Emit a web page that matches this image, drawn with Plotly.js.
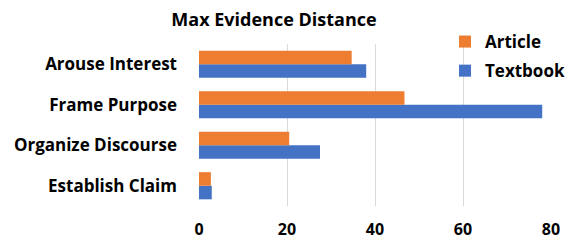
<!DOCTYPE html>
<html>
<head>
<meta charset="utf-8">
<script src="https://cdn.plot.ly/plotly-3.0.1.min.js"></script>
<style>html,body{margin:0;padding:0;background:#fff;}#chart{width:568px;height:242px;}</style>
</head>
<body>
<div id="chart"></div>
<script>
const categories = ["Establish Claim", "Organize Discourse", "Frame Purpose", "Arouse Interest"];
const articleValues = [2.7, 20.5, 46.7, 34.7];
const textbookValues = [2.9, 27.5, 78.0, 38.0];
const xTickValues = [0, 20, 40, 60, 80];
const xTickLabels = ["0", "20", "40", "60", "80"];

const FONT = "'Open Sans', sans-serif";

const traces = [
  {
    type: "bar", orientation: "h", name: "Textbook",
    y: categories, x: textbookValues,
    marker: {color: "#4472C4"}, legendgroup: "b", legendrank: 2
  },
  {
    type: "bar", orientation: "h", name: "Article",
    y: categories, x: articleValues,
    marker: {color: "#ED7D31"}, legendgroup: "a", legendrank: 1
  }
];

const layout = {
  width: 568, height: 242,
  margin: {l: 199, r: 17, t: 44, b: 36, pad: 0, autoexpand: false},
  paper_bgcolor: "#ffffff", plot_bgcolor: "#ffffff",
  font: {family: FONT, color: "#000000"},
  title: {
    text: "<b>Max Evidence Distance</b>",
    font: {family: FONT, size: 18, color: "#000000"},
    x: 274/568, xref: "container", xanchor: "center",
    y: 1 - 20/242, yref: "container", yanchor: "middle"
  },
  barmode: "group", bargap: 0.33, bargroupgap: 0,
  xaxis: {
    range: [0, 80], tickvals: xTickValues, ticktext: xTickLabels,
    showgrid: true, gridcolor: "#D9D9D9", gridwidth: 1,
    zeroline: false, showline: false, ticks: "",
    tickfont: {family: FONT, size: 16, color: "#000000", weight: "bold"},
    ticklabelstandoff: 12, fixedrange: true
  },
  yaxis: {
    type: "category", range: [-0.5, 3.5],
    showgrid: false, zeroline: false, showline: false, ticks: "",
    tickfont: {family: FONT, size: 17, color: "#000000", weight: "bold"},
    ticklabelstandoff: 21, fixedrange: true
  },
  showlegend: true,
  legend: {
    x: 445/568, xref: "container", xanchor: "left",
    y: 1 - 24/242, yref: "container", yanchor: "top",
    traceorder: "grouped", tracegroupgap: 4,
    bgcolor: "rgba(0,0,0,0)",
    font: {family: FONT, size: 17, color: "#000000", weight: "bold"},
    itemwidth: 30
  }
};

Plotly.newPlot("chart", traces, layout, {displayModeBar: false, staticPlot: true});
</script>
</body>
</html>
